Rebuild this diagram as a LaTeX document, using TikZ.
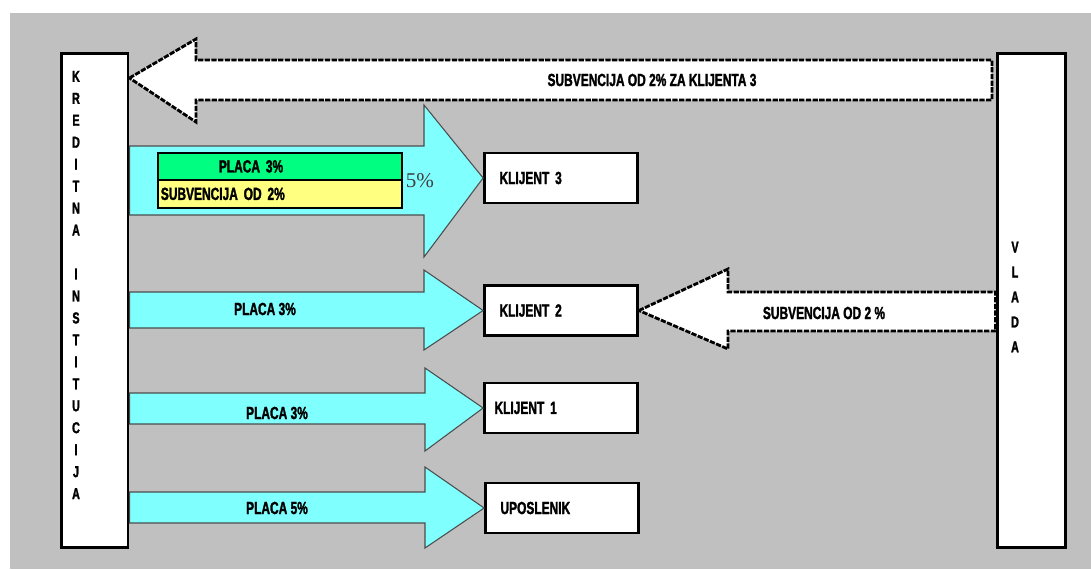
\documentclass[tikz,border=0pt]{standalone}
\usepackage{fontspec}
\setmainfont{Liberation Serif}
\newfontfamily\heavyfont[FakeStretch=0.68, BoldFeatures={FakeBold=1.6}]{Liberation Sans}
\usetikzlibrary{positioning}
\definecolor{bggray}{HTML}{C0C0C0}
\definecolor{cyanarrow}{HTML}{80FFFF}
\definecolor{placagreen}{HTML}{00FF80}
\definecolor{subyellow}{HTML}{FFFF80}

\begin{document}
\begin{tikzpicture}[x=0.02cm, y=-0.02cm,
    lbl/.style={font=\heavyfont\bfseries\fontsize{10}{12}\selectfont},
    klijent/.style={draw, line width=1.6pt, fill=white, minimum width=3.06cm,
      minimum height=1cm, text width=2.46cm, inner xsep=0.3cm, align=left, lbl},
    pillar/.style={draw, line width=1.7pt, fill=white, minimum height=9.9cm},
    cyanarr/.style={fill=cyanarrow, draw=black!70, line width=0.6pt},
    whitearr/.style={fill=white, draw=black, line width=1.6pt, dash pattern=on 3pt off 0.8pt},
  ]
          \useasboundingbox (0,0) rectangle (1091,569);
          \fill[bggray] (10,13) rectangle (1091,569);

          % the two pillars
          \node[pillar, minimum width=1.34cm] (ki) at (94.5,300.5) {};
          \node[lbl, font=\heavyfont\bfseries\fontsize{9}{12.5}\selectfont, align=center] (kitext) at (76,285)
            {K\\R\\E\\D\\I\\T\\N\\A\\[12.5pt]I\\N\\S\\T\\I\\T\\U\\C\\I\\J\\A};
          \node[pillar, minimum width=1.36cm] (vl) at (1031,300.5) {};
          \node[lbl, font=\heavyfont\bfseries\fontsize{9}{14.2}\selectfont, align=center] (vltext) at (1015,297)
            {V\\L\\A\\D\\A};

          % receivers
          \node[klijent] (k3) at (561,178) {KLIJENT 3};
          \node[klijent] (k2) at (561,310.5) {KLIJENT 2};
          \node[klijent, inner xsep=0.2cm, text width=2.66cm] (k1) at (561,408) {KLIJENT 1};
          \node[klijent] (up) at (562,508) {UPOSLENIK};

          % subsidy from the government
          \draw[whitearr] (ki.east |- 0,78) -- (196,39) -- (196,60) -- (992,60)
            -- (992,100) -- (196,100) -- (196,122) -- cycle;
          \node[lbl] (subv3) at (652,80) {SUBVENCIJA OD 2\% ZA KLIJENTA 3};

          \draw[whitearr] (k2.east) -- (728,269) -- (728,292) -- (vl.west |- 0,292)
            -- (vl.west |- 0,331) -- (728,331) -- (728,349) -- cycle;
          \node[lbl] (subv2) at (824,313) {SUBVENCIJA OD 2 \%};

          % payments from the credit institution
          \draw[cyanarr] (ki.east |- 0,146) -- (424,146) -- (424,105) -- (k3.west)
            -- (424,257) -- (424,215) -- (ki.east |- 0,215) -- cycle;
          \node[draw, line width=1pt, fill=placagreen, minimum width=4.88cm, minimum height=0.54cm,
            text width=4.88cm, inner xsep=0pt, align=left, anchor=north west, lbl] (placa) at (157,152)
            {\hspace*{1.22cm}PLACA 3\%};
          \node[draw, line width=1pt, fill=subyellow, minimum width=4.88cm, minimum height=0.56cm,
            text width=4.76cm, inner xsep=0.06cm, align=left, anchor=north west, lbl] (subv) at (157,179)
            {SUBVENCIJA OD 2\%};
          \node[font=\fontsize{12}{14}\selectfont, text=black!75] (pct) at (420,181) {5\%};

          \draw[cyanarr] (ki.east |- 0,292) -- (424,292) -- (424,270) -- (k2.west)
            -- (424,350) -- (424,328) -- (ki.east |- 0,328) -- cycle;
          \node[lbl] (p2) at (265,309) {PLACA 3\%};

          \draw[cyanarr] (ki.east |- 0,393) -- (425,393) -- (425,368) -- (k1.west)
            -- (425,451) -- (425,424) -- (ki.east |- 0,424) -- cycle;
          \node[lbl] (p1) at (277,413) {PLACA 3\%};

          \draw[cyanarr] (ki.east |- 0,492) -- (425,492) -- (425,467) -- (up.west)
            -- (425,548) -- (425,523) -- (ki.east |- 0,523) -- cycle;
          \node[lbl] (p0) at (277,508) {PLACA 5\%};

        \end{tikzpicture}
\end{document}
